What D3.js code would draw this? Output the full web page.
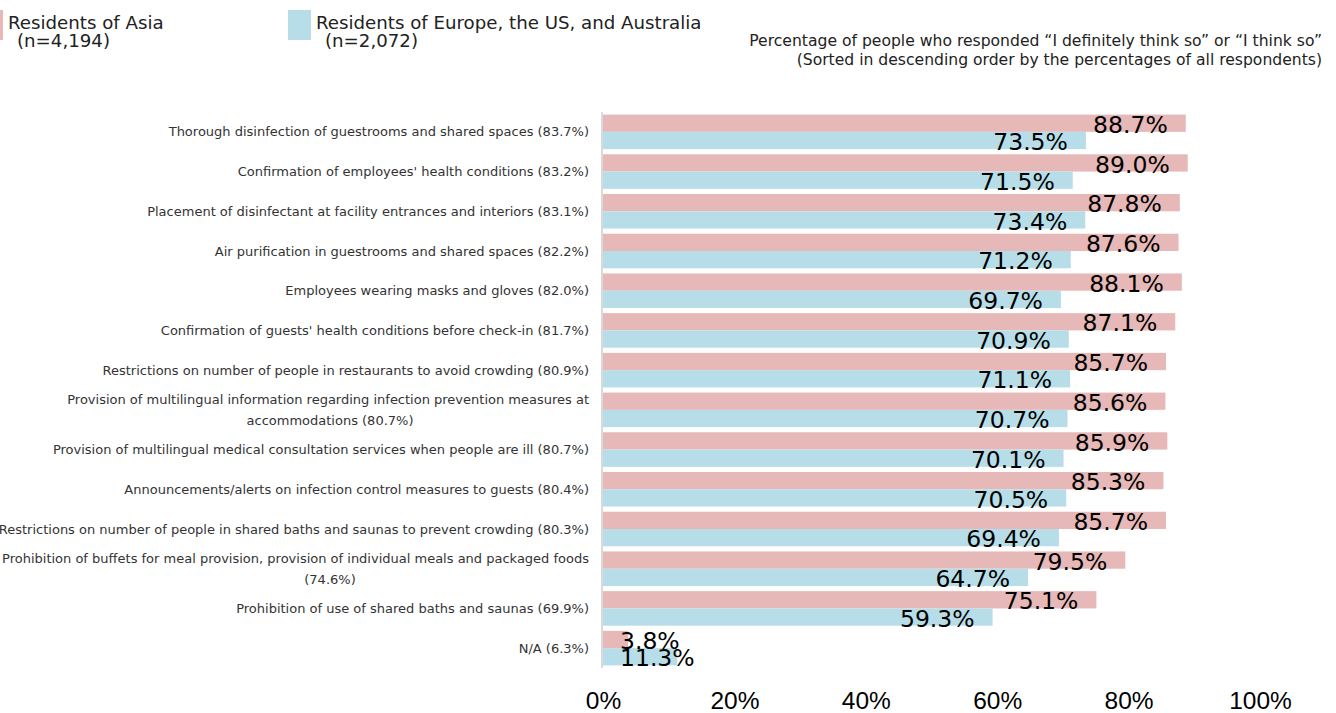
<!DOCTYPE html>
<html>
<head>
<meta charset="utf-8">
<script src="https://cdn.jsdelivr.net/npm/d3@7"></script>
<style>
  body { margin: 0; background: #fff; }
  svg { display: block; font-family: "DejaVu Sans", "Noto Sans CJK JP", sans-serif; }
</style>
</head>
<body>
<script>
// categories (multi-line labels split into lines)
const categories = [
  ["Thorough disinfection of guestrooms and shared spaces (83.7%)"],
  ["Confirmation of employees' health conditions  (83.2%)"],
  ["Placement of disinfectant at facility entrances and interiors (83.1%)"],
  ["Air purification in guestrooms and shared spaces (82.2%)"],
  ["Employees wearing masks and gloves (82.0%)"],
  ["Confirmation of guests' health conditions before check-in (81.7%)"],
  ["Restrictions on number of people in restaurants to avoid crowding (80.9%)"],
  ["Provision of multilingual information regarding infection prevention measures at", "accommodations (80.7%)"],
  ["Provision of multilingual medical consultation services when people are ill (80.7%)"],
  ["Announcements/alerts on infection control measures to guests (80.4%)"],
  ["Restrictions on number of people in shared baths and saunas to prevent crowding (80.3%)"],
  ["Prohibition of buffets for meal provision, provision of individual meals and packaged foods", "(74.6%)"],
  ["Prohibition of use of shared baths and saunas (69.9%)"],
  ["N/A (6.3%)"]
];

const asia = [88.7, 89.0, 87.8, 87.6, 88.1, 87.1, 85.7, 85.6, 85.9, 85.3, 85.7, 79.5, 75.1, 3.8];
const western = [73.5, 71.5, 73.4, 71.2, 69.7, 70.9, 71.1, 70.7, 70.1, 70.5, 69.4, 64.7, 59.3, 11.3];

const seriesNames = ["asia", "western"];
const legendLabels = [
  ["Residents of Asia", "(n=4,194)"],
  ["Residents of Europe, the US, and Australia", "(n=2,072)"]
];
const noteLines = [
  "Percentage of people who responded \u201cI definitely think so\u201d or \u201cI think so\u201d",
  "(Sorted in descending order by the percentages of all respondents)"
];
const ticks = [0, 20, 40, 60, 80, 100];

const width = 1336, height = 713;
const colors = { asia: "#e6b8b7", western: "#b7dee8" };

const svg = d3.select("body").append("svg")
  .attr("width", width)
  .attr("height", height);

const rows = categories.map((c, i) => ({ id: i, lines: c, asia: asia[i], western: western[i] }));

const x = d3.scaleLinear().domain([0, 100]).range([603, 1260]);
const y = d3.scaleBand()
  .domain(rows.map(d => d.id))
  .range([112, 668])
  .paddingInner(0.13)
  .paddingOuter(0.065);
const ySub = d3.scaleBand().domain(seriesNames).range([0, y.bandwidth()]);

// bars
const groups = svg.append("g").selectAll("g")
  .data(rows)
  .join("g")
  .attr("transform", d => `translate(0,${y(d.id)})`);

groups.selectAll("rect")
  .data(d => seriesNames.map(s => ({ key: s, value: d[s] })))
  .join("rect")
  .attr("x", x(0))
  .attr("y", d => ySub(d.key))
  .attr("width", d => x(d.value) - x(0))
  .attr("height", ySub.bandwidth())
  .attr("fill", d => colors[d.key]);

// value labels
groups.selectAll("text.val")
  .data(d => seriesNames.map(s => ({ key: s, value: d[s] })))
  .join("text")
  .attr("class", "val")
  .attr("y", d => ySub(d.key) + ySub.bandwidth() + 1)
  .attr("font-size", 23.5)
  .attr("fill", "#000")
  .text(d => d.value.toFixed(1) + "%")
  .each(function(d) {
    const w = this.getComputedTextLength();
    const end = x(d.value) - 18;
    if (end - w < x(0) + 17) {
      d3.select(this).attr("x", x(0) + 17).attr("text-anchor", "start");
    } else {
      d3.select(this).attr("x", end).attr("text-anchor", "end");
    }
  });

// vertical axis line
svg.append("line")
  .attr("x1", 602).attr("x2", 602)
  .attr("y1", 112).attr("y2", 668)
  .attr("stroke", "#d9d9d9")
  .attr("stroke-width", 2);

// category labels
const catG = svg.append("g").attr("font-size", 13).attr("fill", "#333");
rows.forEach(d => {
  const cy = y(d.id) + y.bandwidth() / 2;
  if (d.lines.length === 1) {
    catG.append("text")
      .attr("x", 589).attr("y", cy).attr("dy", "0.35em")
      .attr("text-anchor", "end")
      .text(d.lines[0]);
  } else {
    catG.append("text")
      .attr("x", 589).attr("y", cy - 10.5).attr("dy", "0.35em")
      .attr("text-anchor", "end")
      .text(d.lines[0]);
    catG.append("text")
      .attr("x", 330).attr("y", cy + 10.5).attr("dy", "0.35em")
      .attr("text-anchor", "middle")
      .text(d.lines[1]);
  }
});

// x axis
const xAxis = svg.append("g")
  .attr("transform", "translate(0,686)")
  .call(d3.axisBottom(x).tickValues(ticks).tickSize(0).tickFormat(d => d + "%"));
xAxis.select(".domain").remove();
xAxis.selectAll("text")
  .attr("font-family", null)
  .attr("font-size", 24.5)
  .attr("fill", "#000")
  .attr("y", 0)
  .attr("dy", "0.95em");

// legend
const legendX = [-20, 288];
legendLabels.forEach((lab, i) => {
  const g = svg.append("g").attr("transform", `translate(${legendX[i]},10)`);
  g.append("rect").attr("width", 23).attr("height", 30).attr("fill", colors[seriesNames[i]]);
  g.append("text").attr("x", 28).attr("y", 19).attr("font-size", 18.2).attr("fill", "#222").text(lab[0]);
  g.append("text").attr("x", 37).attr("y", 37).attr("font-size", 18.2).attr("fill", "#222").text(lab[1]);
});

// note
svg.append("g").selectAll("text")
  .data(noteLines)
  .join("text")
  .attr("x", 1322)
  .attr("y", (d, i) => 46 + i * 19)
  .attr("text-anchor", "end")
  .attr("font-size", 15.6)
  .attr("fill", "#222")
  .text(d => d);
</script>
</body>
</html>
